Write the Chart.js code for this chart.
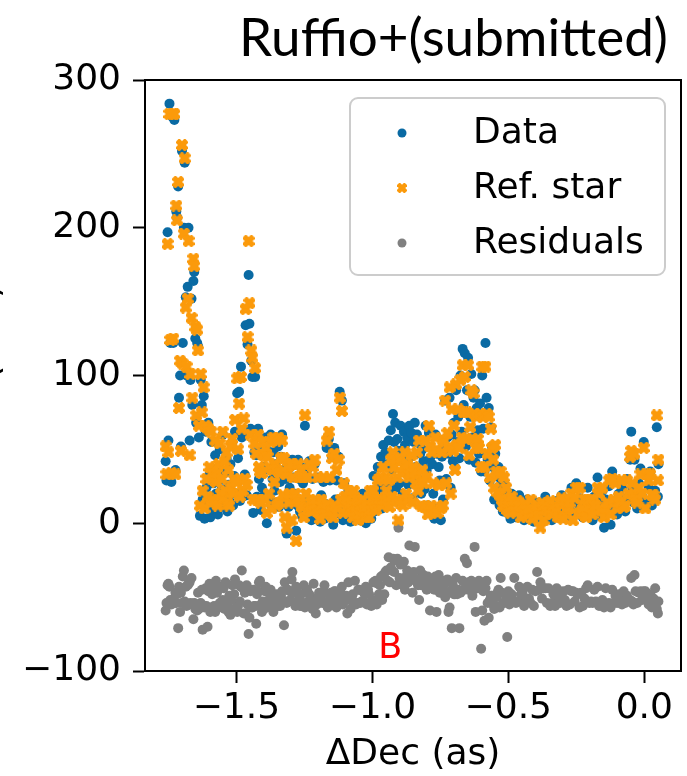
<!DOCTYPE html>
<html>
<head>
<meta charset="utf-8">
<script src="https://cdn.jsdelivr.net/npm/chart.js@4.4.0/dist/chart.umd.min.js"></script>
<style>
  html, body { margin: 0; padding: 0; background: #fff; }
  canvas { display: block; }
</style>
</head>
<body>
<canvas id="scan" width="687" height="776"></canvas>
<script>
// Offset along Dec (arcsec), one entry per spaxel
const decOffset = [
  -1.760,-1.757,-1.753,-1.750,-1.746,-1.743,-1.739,-1.735,-1.732,-1.728,-1.724,-1.721,-1.718,-1.714,-1.711,-1.707,-1.704,-1.700,-1.697,-1.693,-1.690,-1.686,-1.683,-1.679,-1.676,-1.672,-1.669,-1.665,-1.662,-1.658,-1.655,-1.651,-1.648,-1.644,-1.641,
  -1.638,-1.634,-1.631,-1.627,-1.624,-1.620,-1.617,-1.613,-1.610,-1.606,-1.603,-1.599,-1.596,-1.592,-1.589,-1.585,-1.582,-1.578,-1.575,-1.571,-1.568,-1.564,-1.561,-1.557,-1.554,-1.550,-1.547,-1.543,-1.540,-1.536,-1.533,-1.529,-1.526,-1.522,-1.519,-1.515,-1.512,-1.508,-1.505,-1.501,
  -1.497,-1.494,-1.490,-1.487,-1.483,-1.480,-1.476,-1.473,-1.469,-1.466,-1.462,-1.459,-1.455,-1.452,-1.448,-1.445,-1.441,-1.438,-1.434,-1.431,-1.427,-1.424,-1.420,-1.417,-1.413,-1.410,-1.406,-1.403,
  -1.399,-1.395,-1.392,-1.388,-1.385,-1.381,-1.378,-1.374,-1.371,-1.367,-1.364,-1.360,-1.357,-1.353,-1.350,-1.346,-1.343,-1.339,-1.336,-1.332,-1.329,-1.325,-1.322,-1.318,-1.315,-1.311,-1.308,-1.304,-1.301,-1.297,-1.294,-1.290,-1.287,-1.283,-1.280,-1.276,-1.273,-1.269,-1.266,-1.262,-1.259,-1.255,-1.252,
  -1.248,-1.244,-1.240,-1.236,-1.232,-1.228,-1.224,-1.220,-1.216,-1.212,-1.208,-1.204,-1.200,-1.196,-1.192,-1.188,-1.184,-1.180,-1.176,-1.172,-1.168,-1.164,-1.160,-1.156,-1.152,-1.148,-1.144,-1.140,-1.136,-1.132,-1.128,-1.124,-1.120,-1.116,-1.112,-1.108,-1.104,-1.100,-1.096,-1.092,-1.088,-1.084,-1.080,-1.076,-1.072,-1.068,-1.064,-1.060,-1.056,-1.052,-1.048,-1.044,-1.040,-1.036,-1.032,-1.028,-1.024,-1.020,-1.016,-1.012,-1.008,-1.004,
  -1.000,-0.996,-0.992,-0.988,-0.984,-0.980,-0.976,-0.972,-0.968,-0.964,-0.960,-0.956,-0.952,-0.948,-0.944,-0.940,-0.936,-0.932,-0.928,-0.924,-0.920,-0.916,-0.912,-0.908,-0.904,-0.900,-0.896,-0.892,-0.888,-0.884,-0.880,-0.876,-0.872,-0.868,-0.864,-0.860,-0.856,-0.852,-0.848,-0.844,-0.840,-0.836,-0.832,-0.828,-0.824,-0.820,-0.816,-0.812,-0.808,-0.804,-0.800,
  -0.796,-0.792,-0.788,-0.784,-0.780,-0.776,-0.772,-0.768,-0.764,-0.760,-0.756,-0.752,-0.748,-0.744,-0.740,
  -0.736,-0.732,-0.728,-0.724,-0.720,-0.716,-0.712,-0.708,-0.704,-0.700,-0.696,-0.692,-0.688,-0.684,-0.680,-0.676,-0.672,-0.668,-0.664,-0.660,-0.656,-0.652,-0.648,-0.644,-0.640,-0.636,-0.632,-0.628,-0.624,-0.620,-0.616,-0.612,-0.608,-0.604,-0.600,-0.596,-0.592,-0.588,-0.584,-0.580,
  -0.576,-0.572,-0.568,-0.564,-0.560,-0.556,-0.552,-0.548,-0.544,-0.540,-0.536,-0.532,-0.528,-0.524,-0.520,-0.516,-0.512,-0.508,-0.504,-0.500,-0.496,-0.492,-0.488,
  -0.484,-0.478,-0.472,-0.466,-0.460,-0.454,-0.448,-0.442,-0.436,-0.430,-0.424,-0.418,-0.412,-0.406,-0.400,-0.394,-0.388,-0.382,-0.376,-0.370,-0.364,-0.358,-0.352,-0.346,-0.340,-0.334,-0.328,-0.322,-0.316,-0.310,-0.304,-0.298,-0.292,-0.286,-0.280,-0.274,-0.268,-0.262,-0.256,-0.250,-0.244,-0.238,-0.232,-0.226,-0.220,-0.214,-0.208,-0.202,-0.196,-0.190,-0.184,-0.178,-0.172,-0.166,-0.160,-0.154,-0.148,-0.142,-0.136,-0.130,-0.124,
  -0.118,-0.112,-0.106,-0.100,-0.094,-0.088,-0.082,-0.076,-0.070,-0.064,-0.058,-0.052,-0.048,-0.044,-0.040,-0.036,-0.032,-0.026,-0.020,-0.014,-0.008,-0.002,0.004,0.010,0.016,0.022,0.028,0.034,0.040,0.046,0.050,0.052
];

// Measured flux of the target
const dataFlux = [
  42,29,197,56,284,122,28,275,122,273,36,211,207,228,85,100,52,252,122,200,244,153,100,160,200,56,97,152,80,164,170,125,68,122,120,
  58,5,97,80,16,86,3,62,24,12,68,33,4,55,18,27,9,46,20,37,6,29,50,14,23,60,11,34,18,44,8,26,15,40,22,55,12,32,62,20,
  88,44,89,15,106,58,18,60,33,134,19,121,168,135,64,110,99,7,48,99,46,18,64,30,46,9,24,52,
  38,20,58,0,49,18,36,60,12,30,48,22,40,14,33,52,11,28,45,60,16,36,14,30,-7,43,11,24,38,14,43,31,20,14,-5,12,43,30,8,38,5,27,12,
  66,15,36,6,42,12,2,30,9,40,14,4,31,10,1,19,8,28,3,13,51,6,57,29,11,45,-1,51,16,29,7,45,89,12,83,2,27,16,11,5,22,9,1,14,6,18,10,3,12,7,16,2,9,20,5,12,0,8,16,6,18,3,
  14,32,8,20,11,38,16,24,45,10,53,18,48,40,27,56,21,63,36,74,55,68,24,57,49,27,66,45,20,62,53,34,58,26,66,45,61,17,55,68,38,60,30,54,47,20,50,42,23,66,36,
  12,61,44,8,40,20,3,60,47,10,38,29,2,45,16,
  52,83,30,58,47,85,24,60,42,68,38,90,55,72,44,100,62,118,80,115,52,90,112,43,72,101,58,85,90,41,78,63,47,81,35,100,64,35,122,85,
  43,78,29,65,52,38,16,47,35,24,38,12,30,19,8,27,14,22,7,18,11,3,20,
  9,18,4,12,19,6,14,2,10,16,5,12,8,1,14,6,10,3,13,8,18,5,14,9,2,12,6,15,4,10,19,7,13,3,16,9,24,6,14,27,8,17,11,4,15,10,24,7,13,2,18,9,31,14,5,22,-3,16,8,25,-1,
  35,12,28,6,20,11,24,15,8,30,18,43,62,24,14,43,20,10,27,37,18,55,14,33,24,35,12,18,22,65,18,40
];

// Reference star scaled to the same PSF
const refFlux = [
  52,33,189,48,277,124,34,277,125,277,33,215,205,231,78,110,49,256,108,196,247,146,106,152,191,46,101,139,85,179,174,133,73,131,117,
  66,12,101,75,22,92,10,66,30,18,64,38,14,62,16,33,15,56,28,34,12,40,54,20,30,62,17,42,22,48,14,36,12,52,24,57,20,30,70,28,
  98,50,81,18,99,64,22,71,30,145,26,126,191,149,60,117,112,16,54,105,47,16,60,38,35,14,34,55,
  46,16,51,7,45,20,38,55,10,36,58,28,40,12,36,58,14,34,44,56,19,44,4,33,-3,38,14,20,40,2,40,31,16,20,-12,16,40,31,14,36,11,31,4,
  73,20,31,9,40,14,8,38,12,43,16,9,31,7,3,16,12,31,6,10,56,13,62,31,8,44,4,47,12,36,10,43,85,16,76,7,27,18,10,16,22,11,9,14,4,22,12,8,16,2,11,6,12,16,8,10,4,13,11,4,22,9,
  16,22,11,9,16,29,14,16,31,12,38,16,31,22,16,29,11,43,18,48,38,43,16,31,2,14,44,34,12,38,48,20,40,16,31,33,46,14,38,34,27,48,22,56,29,12,36,27,11,56,31,
  6,66,52,12,48,27,8,58,50,7,26,26,10,48,12,
  56,83,27,61,51,92,20,77,49,66,36,94,53,77,51,97,58,107,75,99,57,75,107,46,65,90,57,88,74,51,72,57,51,74,38,106,72,38,106,74,
  47,72,31,64,51,43,24,53,35,21,33,19,35,16,12,31,12,24,9,14,16,7,18,
  11,12,8,15,12,4,11,8,13,9,6,16,3,7,10,12,5,-3,14,2,12,9,8,15,6,10,12,9,4,14,17,3,15,9,11,14,20,2,17,24,6,24,8,10,16,4,16,11,16,6,13,12,24,20,9,24,4,10,14,29,6,
  30,16,27,10,18,14,29,11,12,29,20,45,49,27,19,47,16,14,24,33,20,51,10,33,29,33,19,19,16,73,29,43
];

// Residuals (target minus reference), shifted down by 50
const residFlux = [
  -59,-54,-42,-41,-43,-52,-55,-52,-53,-54,-47,-54,-48,-71,-43,-60,-47,-54,-36,-32,-53,-43,-56,-42,-41,-40,-54,-37,-55,-65,-54,-58,-55,-59,-47,
  -58,-57,-54,-45,-72,-56,-57,-44,-56,-70,-46,-41,-60,-57,-48,-45,-56,-60,-39,-47,-56,-43,-54,-56,-57,-52,-44,-58,-40,-54,-56,-60,-49,-62,-52,-42,-58,-48,-38,-58,
  -60,-56,-42,-53,-43,-32,-44,-61,-47,-61,-42,-55,-75,-64,-46,-57,-57,-45,-56,-56,-68,-48,-46,-40,-39,-55,-60,-53,
  -58,-46,-43,-57,-46,-52,-52,-45,-48,-56,-60,-56,-50,-48,-53,-56,-53,-56,-49,-46,-53,-69,-40,-53,-54,-45,-53,-46,-52,-38,-33,-47,-46,-56,-43,-54,-47,-51,-56,-48,-56,-54,-42,
  -57,-55,-45,-53,-48,-52,-56,-58,-41,-53,-61,-55,-50,-47,-52,-47,-54,-53,-42,-47,-55,-57,-55,-52,-47,-49,-55,-46,-46,-57,-53,-48,-46,-54,-43,-55,-50,-52,-49,-61,-40,-52,-58,-50,-48,-54,-39,-55,-54,-45,-45,-54,-53,-46,-53,-48,-43,-55,-45,-48,-54,-56,
  -52,-40,-53,-39,-55,-41,-48,-42,-36,-52,-35,-48,-33,-32,-39,-23,-40,-30,-32,-24,-33,-25,-42,-24,-3,-37,-28,-39,-42,-26,-45,-36,-32,-40,-15,-38,-35,-47,-33,-16,-39,-38,-42,-52,-32,-42,-36,-35,-38,-40,-45,
  -36,-42,-59,-44,-40,-38,-45,-36,-60,-41,-35,-47,-42,-39,-44,
  -41,-50,-47,-38,-60,-57,-46,-71,-42,-48,-48,-37,-48,-45,-71,-47,-46,-39,-45,-24,-41,-27,-45,-40,-43,-39,-49,-44,-16,-60,-44,-44,-39,-43,-85,-59,-46,-66,-44,-39,
  -54,-64,-52,-49,-49,-55,-58,-56,-50,-47,-45,-57,-37,-47,-54,-54,-48,-52,-77,-46,-55,-54,-48,
  -52,-37,-54,-53,-43,-48,-47,-56,-53,-43,-51,-54,-45,-56,-46,-33,-45,-40,-51,-44,-44,-54,-44,-56,-54,-48,-56,-44,-50,-54,-48,-46,-52,-56,-45,-55,-46,-46,-53,-47,-48,-57,-47,-56,-51,-44,-42,-54,-53,-54,-45,-53,-43,-56,-54,-52,-57,-44,-56,-54,-57,
  -45,-54,-49,-54,-48,-53,-55,-46,-54,-49,-52,-52,-37,-53,-55,-35,-46,-54,-47,-46,-52,-46,-46,-50,-55,-48,-57,-51,-44,-58,-61,-53
];

const seriesNames = ['Data', 'Ref. star', 'Residuals'];
const xTicks = [-1.5, -1.0, -0.5, 0.0];
const yTicks = [-100, 0, 100, 200, 300];

const FONT = '"DejaVu Sans", sans-serif';
const BLUE = '#0a6aa3';
const ORANGE = '#fb9a0b';
const GREY = '#808080';

function minus(s) {
  return String(s).replace('-', '\u2212');
}

function toPoints(ys) {
  return decOffset.map((x, i) => ({ x: x, y: ys[i] }));
}

// filled "X" marker, drawn once and reused as a point style
function makeXMarker(size, color) {
  const c = document.createElement('canvas');
  c.width = size;
  c.height = size;
  const g = c.getContext('2d');
  const h = size / 2;
  const arm = size * 0.23;
  const len = h * 1.12;
  g.translate(h, h);
  g.rotate(Math.PI / 4);
  g.fillStyle = color;
  g.fillRect(-len, -arm, 2 * len, 2 * arm);
  g.fillRect(-arm, -len, 2 * arm, 2 * len);
  return c;
}

const xMark = makeXMarker(12, ORANGE);
const xMarkSmall = makeXMarker(10, ORANGE);

// title, frame, legend box and annotations
const decorations = {
  id: 'decorations',
  afterDatasetsDraw(chart) {
    const ctx = chart.ctx;
    const a = chart.chartArea;
    const xs = chart.scales.x;
    const ys = chart.scales.y;

    ctx.save();
    ctx.strokeStyle = '#000';
    ctx.lineWidth = 2;
    ctx.strokeRect(a.left, a.top, a.right - a.left, a.bottom - a.top);

    // red panel letter
    ctx.fillStyle = '#ff0000';
    ctx.font = '35px ' + FONT;
    ctx.textAlign = 'center';
    ctx.textBaseline = 'middle';
    ctx.fillText('B', xs.getPixelForValue(-0.934), ys.getPixelForValue(-85));

    // legend
    const bx = 350, by = 98, bw = 315, bh = 177;
    ctx.beginPath();
    ctx.roundRect(bx, by, bw, bh, 8);
    ctx.fillStyle = 'rgba(255,255,255,0.8)';
    ctx.fill();
    ctx.strokeStyle = '#cccccc';
    ctx.lineWidth = 2;
    ctx.stroke();

    const rows = [133, 188, 243];
    const colors = [BLUE, ORANGE, GREY];
    ctx.font = '36px ' + FONT;
    ctx.textAlign = 'left';
    ctx.textBaseline = 'middle';
    rows.forEach((ry, i) => {
      if (i === 1) {
        ctx.drawImage(xMarkSmall, 402 - 5, ry - 5);
      } else {
        ctx.beginPath();
        ctx.arc(402, ry, 4.5, 0, Math.PI * 2);
        ctx.fillStyle = colors[i];
        ctx.fill();
      }
      ctx.fillStyle = '#000';
      ctx.fillText(seriesNames[i], 473, ry + 1);
    });
    ctx.restore();
  },
  afterDraw(chart) {
    const ctx = chart.ctx;
    ctx.save();
    ctx.fillStyle = '#000';
    ctx.font = '53px Lato, "Open Sans", sans-serif';
    ctx.textAlign = 'right';
    ctx.textBaseline = 'alphabetic';
    ctx.fillText('Ruffio+(submitted)', 668, 56);

    // y label, mostly cut off by the left edge
    ctx.translate(-2, 375);
    ctx.rotate(-Math.PI / 2);
    ctx.font = '36px ' + FONT;
    ctx.textAlign = 'center';
    ctx.fillText('Flux (a.u.)', 0, 0);
    ctx.restore();
  }
};

new Chart(document.getElementById('scan'), {
  type: 'scatter',
  data: {
    datasets: [
      {
        label: seriesNames[0],
        data: toPoints(dataFlux),
        backgroundColor: BLUE,
        pointRadius: 5,
        pointBorderWidth: 0,
        order: 2
      },
      {
        label: seriesNames[1],
        data: toPoints(refFlux),
        backgroundColor: ORANGE,
        pointStyle: xMark,
        pointRadius: 6,
        pointBorderWidth: 0,
        order: 1
      },
      {
        label: seriesNames[2],
        data: toPoints(residFlux),
        backgroundColor: GREY,
        pointRadius: 5,
        pointBorderWidth: 0,
        order: 3
      }
    ]
  },
  options: {
    responsive: false,
    animation: false,
    devicePixelRatio: 1,
    layout: { padding: { top: 80, right: 2, left: 0, bottom: 0 } },
    plugins: {
      legend: { display: false },
      tooltip: { enabled: false }
    },
    scales: {
      x: {
        type: 'linear',
        min: -1.836,
        max: 0.135,
        afterBuildTicks: s => { s.ticks = xTicks.map(v => ({ value: v })); },
        afterFit: s => { s.height = 105; },
        ticks: {
          color: '#000',
          font: { family: FONT, size: 36 },
          padding: 4,
          maxRotation: 0,
          callback: v => minus(Number(v).toFixed(1))
        },
        grid: { drawOnChartArea: false, drawTicks: true, tickLength: 12, tickWidth: 2, tickColor: '#000' },
        border: { display: true, color: '#000', width: 2 },
        title: {
          display: true,
          text: 'ΔDec (as)',
          color: '#000',
          font: { family: FONT, size: 36 },
          padding: 0
        }
      },
      y: {
        type: 'linear',
        min: -100,
        max: 300,
        afterBuildTicks: s => { s.ticks = yTicks.map(v => ({ value: v })); },
        afterFit: s => { s.width = 145; },
        ticks: {
          color: '#000',
          font: { family: FONT, size: 36 },
          padding: 12,
          callback: v => minus(v)
        },
        grid: { drawOnChartArea: false, drawTicks: true, tickLength: 12, tickWidth: 2, tickColor: '#000' },
        border: { display: true, color: '#000', width: 2 }
      }
    }
  },
  plugins: [decorations]
});
</script>
</body>
</html>
